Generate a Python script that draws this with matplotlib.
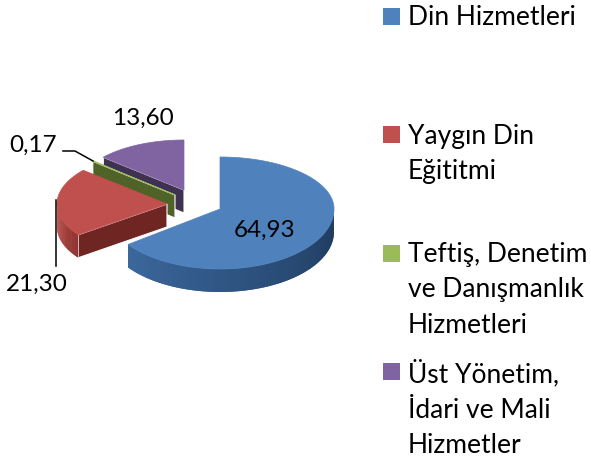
import numpy as np
import matplotlib
matplotlib.use('Agg')
import matplotlib.pyplot as plt
from matplotlib.colors import to_rgb

categories = ['Din Hizmetleri', 'Yaygın Din\nEğititmi', 'Teftiş, Denetim\nve Danışmanlık\nHizmetleri',
              'Üst Yönetim,\nİdari ve Mali\nHizmetler']
values = [64.93, 21.30, 0.17, 13.60]
topColors = ['#4f81bd', '#c0504d', '#9bbb59', '#8064a2']
sideColors = ['#2c4d75', '#6f2522', '#4f6228', '#3f3151']
legendColors = ['#4f81bd', '#c0504d', '#9bbb59', '#8064a2']

# slice layout in pixels: apex x, apex y, rx, ry back, ry front
layout = [(220, 209, 114, 52, 60),
          (167, 204, 110, 52, 52),
          (175, 195, 108, 52, 52),
          (184, 190, 107, 50, 50)]
depth = 23
legendY = [16.5, 135, 253, 371]
labelPos = [(265, 230), (37, 284), (33, 145), (143, 118)]
fontName = 'Lato'
labelSize = 17.5
legendSize = 19


def rim(lay, ang):
    x0, y0, rx, ryb, ryf = lay
    ang = np.radians(ang)
    c = np.cos(ang)
    ry = np.where(c > 0, ryb, ryf)
    return x0 + rx * np.sin(ang), y0 - ry * c


def mix(a, b, t):
    a, b = np.array(to_rgb(a)), np.array(to_rgb(b))
    return tuple(a + (b - a) * t)


fig = plt.figure(figsize = (5.91, 4.61), dpi = 100)
ax = fig.add_axes([0, 0, 1, 1])
ax.set_xlim(0, 591)
ax.set_ylim(461, 0)
ax.axis('off')

total = sum(values)
edges = np.concatenate(([0], np.cumsum(values))) / total * 360

# back slices first so the nearer ones cover them
for i in [3, 2, 1, 0]:
    lay = layout[i]
    a0, a1 = edges[i], edges[i + 1]
    z = 10 - i

    if i != 0:
        xo, yo = rim(lay, a0)
        ax.fill([lay[0], xo, xo, lay[0]], [lay[1], yo, yo + depth, lay[1] + depth],
                color = sideColors[i], ec = 'white', lw = 0.8, zorder = z)

    # outer wall, front facing part only
    if a1 > 90 and a0 < 270:
        wall = np.linspace(max(a0, 90), min(a1, 270), 60)
        xw, yw = rim(lay, wall)
        for k in range(len(wall) - 1):
            t = (wall[k] - 90) / 180
            if i == 0:
                col = mix('#1f3b5e', '#4274ad', t)
            else:
                col = mix('#8e3532', topColors[i], (wall[k] - a0) / (270 - a0))
            # overlap the next strip so no seams show
            k2 = min(k + 2, len(wall) - 1)
            ax.fill([xw[k], xw[k2], xw[k2], xw[k]],
                    [yw[k], yw[k2], yw[k2] + depth, yw[k] + depth],
                    color = col, lw = 0, zorder = z + 60 - k if wall[k] < 180 else z + k * 0.001)

    ang = np.linspace(a0, a1, 200)
    xt, yt = rim(lay, ang)
    ax.fill(np.r_[lay[0], xt], np.r_[lay[1], yt], color = topColors[i], lw = 0.5,
            ec = topColors[i], zorder = z + 100)

# leader lines
ax.plot([63, 75, 93], [151, 151, 161], color = 'black', lw = 1.1, zorder = 200)
ax.plot([56, 56], [200, 266], color = 'black', lw = 1.1, zorder = 200)

for v, (x, y) in zip(values, labelPos):
    ax.text(x, y, f'{v:.2f}'.replace('.', ','), ha = 'center', va = 'center',
            fontsize = labelSize, family = fontName, color = 'black', zorder = 210)

for name, col, y in zip(categories, legendColors, legendY):
    ax.fill([383, 400, 400, 383], [y - 8.5, y - 8.5, y + 8.5, y + 8.5], color = col, lw = 0)
    ax.text(408, y - 11.5, name, ha = 'left', va = 'top', fontsize = legendSize, family = fontName,
            color = 'black', linespacing = 1.53)

fig.savefig('out.png', dpi = 100)
